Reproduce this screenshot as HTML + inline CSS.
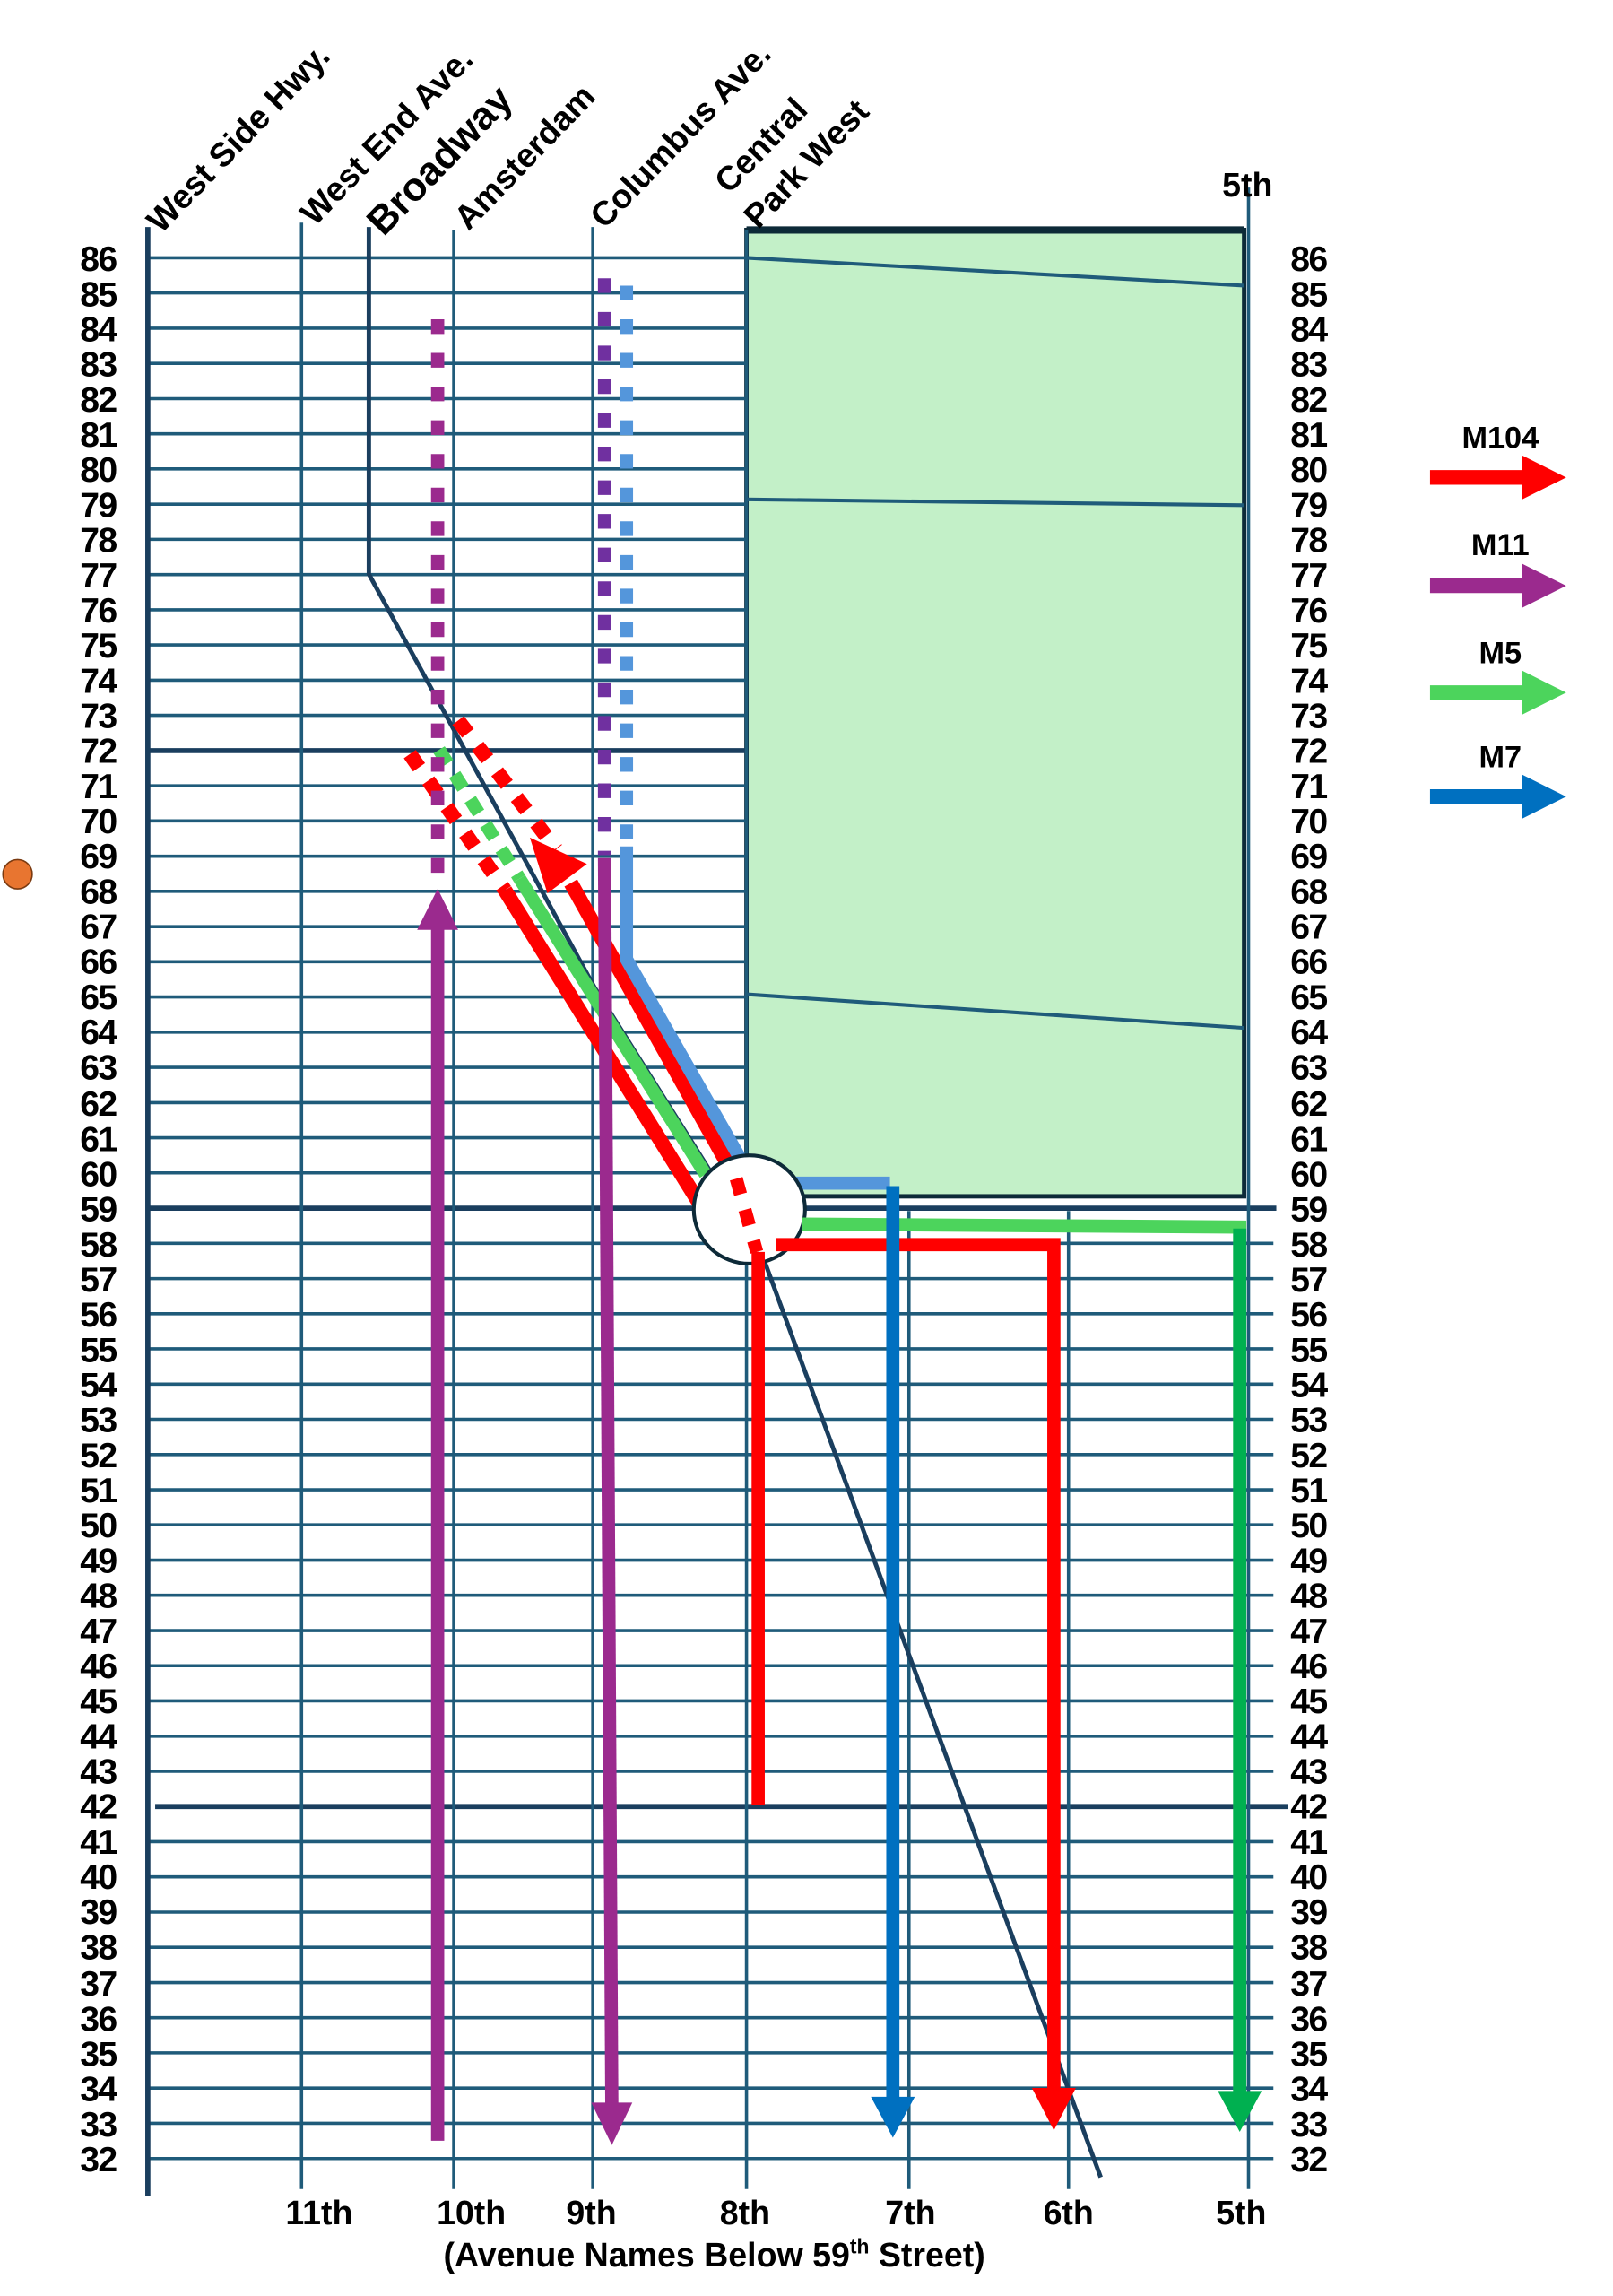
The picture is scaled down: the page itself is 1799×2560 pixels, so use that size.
<!DOCTYPE html>
<html><head><meta charset="utf-8"><style>html,body{margin:0;padding:0;background:#fff}svg{display:block}</style></head>
<body>
<svg width="1799" height="2560" viewBox="0 0 1102 1568" xmlns="http://www.w3.org/2000/svg" font-family="Liberation Sans, sans-serif" font-weight="bold">
<rect width="1102" height="1568" fill="#fff"/>
<!-- park -->
<rect x="510" y="157" width="340" height="660" fill="#c3f0c8" stroke="#0d2a38" stroke-width="3"/>
<line x1="510" y1="157" x2="850" y2="157" stroke="#0d2a38" stroke-width="5"/>
<g stroke="#1f5b7a" stroke-width="2.5" fill="none">
<line x1="510" y1="176" x2="850" y2="195"/>
<line x1="510" y1="341" x2="850" y2="345"/>
<line x1="510" y1="679" x2="850" y2="702"/>
</g>
<path stroke="#1f5b7a" stroke-width="2.2" fill="none" d="M101 176H510M101 200H510M101 224.1H510M101 248.1H510M101 272.2H510M101 296.2H510M101 320.2H510M101 344.3H510M101 368.3H510M101 392.4H510M101 416.4H510M101 440.4H510M101 464.5H510M101 488.5H510M101 536.6H510M101 560.6H510M101 584.7H510M101 608.7H510M101 632.8H510M101 656.8H510M101 680.8H510M101 704.9H510M101 728.9H510M101 753H510M101 777H510M101 801H510"/>
<path stroke="#1f5b7a" stroke-width="2.2" fill="none" d="M101 849.1H870M101 873.2H870M101 897.2H870M101 921.2H870M101 945.3H870M101 969.3H870M101 993.4H870M101 1017.4H870M101 1041.4H870M101 1065.5H870M101 1089.5H870M101 1113.6H870M101 1137.6H870M101 1161.6H870M101 1185.7H870M101 1209.7H870M101 1257.8H870M101 1281.8H870M101 1305.9H870M101 1329.9H870M101 1354H870M101 1378H870M101 1402H870M101 1426.1H870M101 1450.1H870M101 1474.2H870"/>
<g stroke="#1a3e5e" stroke-width="3.5">
<line x1="101" y1="512.6" x2="510" y2="512.6"/>
<line x1="101" y1="825.1" x2="872" y2="825.1"/>
<line x1="106" y1="1233.8" x2="880" y2="1233.8"/>
</g>
<g stroke="#1f5b7a" stroke-width="2.2">
<line x1="206" y1="152" x2="206" y2="1495"/>
<line x1="310" y1="157" x2="310" y2="1495"/>
<line x1="405" y1="155" x2="405" y2="1495"/>
<line x1="510" y1="157" x2="510" y2="1495"/>
<line x1="621" y1="827" x2="621" y2="1495"/>
<line x1="730" y1="827" x2="730" y2="1495"/>
<line x1="853" y1="128" x2="853" y2="1495"/>
</g>
<line x1="101" y1="155" x2="101" y2="1500" stroke="#1a3e5e" stroke-width="3.5"/>
<polyline points="252,155 252,392 406,674 520,855 752,1487" fill="none" stroke="#1a3e5e" stroke-width="3"/>

<!-- M104 red -->
<g stroke="#ff0000" stroke-width="10" fill="none">
<line x1="280" y1="515" x2="345" y2="608" stroke-dasharray="11 11"/>
<line x1="313" y1="492" x2="380" y2="580" stroke-dasharray="11 11"/>
<line x1="345" y1="608" x2="478" y2="822"/>
<line x1="500" y1="800" x2="390" y2="603"/>
</g>
<polygon points="362,572 401,590 374,610" fill="#ff0000"/>
<!-- M5 green -->
<g stroke="#4cd45c" stroke-width="9" fill="none">
<line x1="300" y1="512" x2="355" y2="600" stroke-dasharray="11 9"/>
<line x1="355" y1="600" x2="482" y2="802"/>
</g>
<!-- M11 purple / M7 light blue -->
<g fill="none">
<line x1="299" y1="218" x2="299" y2="606" stroke="#9b2a8e" stroke-width="9" stroke-dasharray="10 13"/>
<line x1="299" y1="632" x2="299" y2="1462" stroke="#9b2a8e" stroke-width="9"/>
<line x1="413" y1="190" x2="413" y2="584" stroke="#7030a0" stroke-width="9" stroke-dasharray="10 13"/>
<line x1="413" y1="586" x2="418" y2="1438" stroke="#9b2a8e" stroke-width="9"/>
<line x1="428" y1="195" x2="428" y2="578" stroke="#5496db" stroke-width="9" stroke-dasharray="10 13"/>
<polyline points="428,578 428,655 505,790 505,808 608,808" stroke="#5496db" stroke-width="9"/>
</g>
<polygon points="299,607 285,635 313,635" fill="#9b2a8e"/>
<polygon points="404,1436 432,1436 418,1465" fill="#9b2a8e"/>
<!-- circle -->
<ellipse cx="512" cy="826" rx="38" ry="37" fill="#fff" stroke="#0d2a38" stroke-width="2.5"/>
<line x1="503" y1="805" x2="517" y2="855" stroke="#ff0000" stroke-width="9" stroke-dasharray="11 11"/>
<!-- green south -->
<polyline points="548,836 847,838 847,1430" fill="none" stroke="#4cd45c" stroke-width="9"/>
<line x1="847" y1="839" x2="847" y2="1430" stroke="#00b050" stroke-width="9"/>
<polygon points="832,1428 862,1428 847,1456" fill="#00b050"/>
<!-- red south -->
<polyline points="530,850 720,850 720,1428" fill="none" stroke="#ff0000" stroke-width="9"/>
<line x1="518" y1="855" x2="518" y2="1233" stroke="#ff0000" stroke-width="9"/>
<polygon points="705,1426 735,1426 720,1455" fill="#ff0000"/>
<!-- blue M7 -->
<line x1="610" y1="810" x2="610" y2="1434" stroke="#0070c0" stroke-width="9"/>
<polygon points="595,1432 625,1432 610,1460" fill="#0070c0"/>

<!-- legend -->
<g font-size="21" text-anchor="middle" fill="#000">
<text x="1025" y="306">M104</text>
<text x="1025" y="379">M11</text>
<text x="1025" y="453">M5</text>
<text x="1025" y="524">M7</text>
</g>
<polygon points="977,321 1040,321 1040,311 1070,326 1040,341 1040,331 977,331" fill="#ff0000"/>
<polygon points="977,395 1040,395 1040,385 1070,400 1040,415 1040,405 977,405" fill="#9b2a8e"/>
<polygon points="977,468 1040,468 1040,458 1070,473 1040,488 1040,478 977,478" fill="#4cd45c"/>
<polygon points="977,539 1040,539 1040,529 1070,544 1040,559 1040,549 977,549" fill="#0070c0"/>
<circle cx="12" cy="597" r="10" fill="#e87530" stroke="#7a3a10" stroke-width="1"/>

<!-- top labels -->
<g font-size="23" fill="#000">
<text transform="translate(110,160) rotate(-46)">West Side Hwy.</text>
<text transform="translate(215,155) rotate(-46)">West End Ave.</text>
<text transform="translate(262,162) rotate(-46)" font-size="27">Broadway</text>
<text transform="translate(320,158) rotate(-46)">Amsterdam</text>
<text transform="translate(413,157) rotate(-46)">Columbus Ave.</text>
<text transform="translate(498,133) rotate(-46)">Central</text>
<text transform="translate(518,157) rotate(-46)">Park West</text>
<text x="835" y="134">5th</text>
</g>
<!-- bottom labels -->
<g font-size="23" fill="#000" text-anchor="middle">
<text x="218" y="1519">11th</text>
<text x="322" y="1519">10th</text>
<text x="404" y="1519">9th</text>
<text x="509" y="1519">8th</text>
<text x="622" y="1519">7th</text>
<text x="730" y="1519">6th</text>
<text x="848" y="1519">5th</text>
<text x="488" y="1548">(Avenue Names Below 59<tspan font-size="14" dy="-9">th</tspan><tspan dy="9"> Street)</tspan></text>
</g>
<!-- street numbers -->
<g font-size="24" letter-spacing="-1" fill="#000" text-anchor="middle" transform="translate(0,2)">
<text x="67" y="183">86</text><text x="67" y="207">85</text><text x="67" y="231">84</text><text x="67" y="255">83</text><text x="67" y="279">82</text><text x="67" y="303">81</text><text x="67" y="327">80</text><text x="67" y="351">79</text><text x="67" y="375">78</text><text x="67" y="399">77</text><text x="67" y="423">76</text><text x="67" y="447">75</text><text x="67" y="471">74</text><text x="67" y="495">73</text><text x="67" y="519">72</text><text x="67" y="543">71</text><text x="67" y="567">70</text><text x="67" y="591">69</text><text x="67" y="615">68</text><text x="67" y="639">67</text><text x="67" y="663">66</text><text x="67" y="687">65</text><text x="67" y="711">64</text><text x="67" y="735">63</text><text x="67" y="760">62</text><text x="67" y="784">61</text><text x="67" y="808">60</text><text x="67" y="832">59</text><text x="67" y="856">58</text><text x="67" y="880">57</text><text x="67" y="904">56</text><text x="67" y="928">55</text><text x="67" y="952">54</text><text x="67" y="976">53</text><text x="67" y="1000">52</text><text x="67" y="1024">51</text><text x="67" y="1048">50</text><text x="67" y="1072">49</text><text x="67" y="1096">48</text><text x="67" y="1120">47</text><text x="67" y="1144">46</text><text x="67" y="1168">45</text><text x="67" y="1192">44</text><text x="67" y="1216">43</text><text x="67" y="1240">42</text><text x="67" y="1264">41</text><text x="67" y="1288">40</text><text x="67" y="1312">39</text><text x="67" y="1336">38</text><text x="67" y="1361">37</text><text x="67" y="1385">36</text><text x="67" y="1409">35</text><text x="67" y="1433">34</text><text x="67" y="1457">33</text><text x="67" y="1481">32</text>
</g>
<g font-size="24" letter-spacing="-1" fill="#000" text-anchor="middle">
<text x="894" y="185">86</text><text x="894" y="209">85</text><text x="894" y="233">84</text><text x="894" y="257">83</text><text x="894" y="281">82</text><text x="894" y="305">81</text><text x="894" y="329">80</text><text x="894" y="353">79</text><text x="894" y="377">78</text><text x="894" y="401">77</text><text x="894" y="425">76</text><text x="894" y="449">75</text><text x="894" y="473">74</text><text x="894" y="497">73</text><text x="894" y="521">72</text><text x="894" y="545">71</text><text x="894" y="569">70</text><text x="894" y="593">69</text><text x="894" y="617">68</text><text x="894" y="641">67</text><text x="894" y="665">66</text><text x="894" y="689">65</text><text x="894" y="713">64</text><text x="894" y="737">63</text><text x="894" y="762">62</text><text x="894" y="786">61</text><text x="894" y="810">60</text><text x="894" y="834">59</text><text x="894" y="858">58</text><text x="894" y="882">57</text><text x="894" y="906">56</text><text x="894" y="930">55</text><text x="894" y="954">54</text><text x="894" y="978">53</text><text x="894" y="1002">52</text><text x="894" y="1026">51</text><text x="894" y="1050">50</text><text x="894" y="1074">49</text><text x="894" y="1098">48</text><text x="894" y="1122">47</text><text x="894" y="1146">46</text><text x="894" y="1170">45</text><text x="894" y="1194">44</text><text x="894" y="1218">43</text><text x="894" y="1242">42</text><text x="894" y="1266">41</text><text x="894" y="1290">40</text><text x="894" y="1314">39</text><text x="894" y="1338">38</text><text x="894" y="1363">37</text><text x="894" y="1387">36</text><text x="894" y="1411">35</text><text x="894" y="1435">34</text><text x="894" y="1459">33</text><text x="894" y="1483">32</text>
</g>
</svg>
</body></html>
